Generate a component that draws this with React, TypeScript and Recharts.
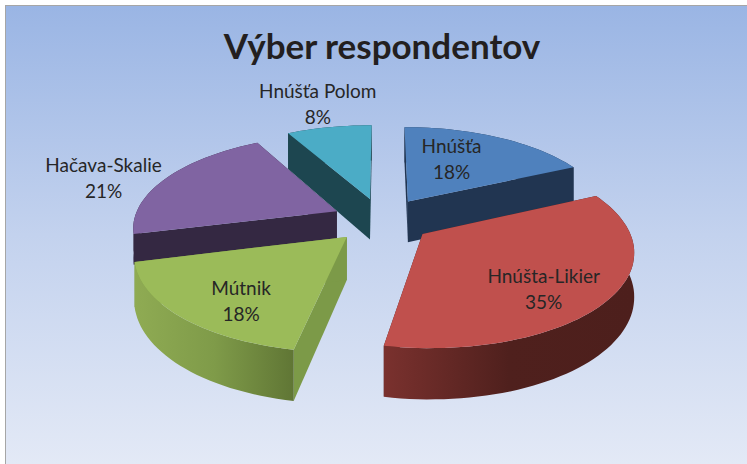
import React from 'react';
import { PieChart, Pie } from 'recharts';

const categories = ['Hnúšťa', 'Hnúšta-Likier', 'Mútnik', 'Hačava-Skalie', 'Hnúšťa Polom'];
const shares = [18, 35, 18, 21, 8];

const topColors = ['#4f81bd', '#c0504d', '#9bbb59', '#8064a2', '#4bacc6'];
const wallColors = ['#213551', '#4d1f1c', '#7c9a48', '#342842', '#1d4650'];
const arcStops = [
  ['#213551', '#213551', '#213551'],
  ['#7a312e', '#4f201d', '#4d1f1c'],
  ['#8fab53', '#7f9b49', '#607635'],
  ['#342842', '#342842', '#342842'],
  ['#1d4650', '#1d4650', '#1d4650'],
];

// far slices first, the near ones have to cover them
const paintOrder = [4, 0, 3, 2, 1];
// where the label sits along the slice's middle, as a share of the radius
const labelReach = [0.43, 0.74, 0.68, 1.31, 1.18];
const labelShift = [
  [2, -13],
  [-13, 8],
  [3, 12],
  [-14, 9],
  [-5, -12],
];
// the purple one is thinner, otherwise it sticks out under the green slice
const sliceDepth = [42, 42, 42, 30, 42];

const data = categories.map((name, i) => ({ name, value: shares[i] }));

const W = 742;
const H = 459;
const RADIAN = Math.PI / 180;
const EXPLODE = 50;
const TILT = 0.45;
const VIEW = 1300;

// flat pie plane -> screen, with a bit of perspective
const project = (cx: number, cy: number, x: number, y: number, drop = 0) => {
  const s = VIEW / (VIEW + y);
  return [cx + x * s, cy - y * TILT * s + drop * s];
};

const sliceShape = (target: number) => (props: any) => {
  const i = categories.indexOf(props.name);
  if (i !== target) return <g />;
  const { cx, cy, startAngle, endAngle, outerRadius: r, midAngle } = props;
  const depth = sliceDepth[i];
  const ox = EXPLODE * Math.cos(midAngle * RADIAN);
  const oy = EXPLODE * Math.sin(midAngle * RADIAN);
  const pt = (deg: number, radius: number, drop = 0) =>
    project(cx, cy, ox + radius * Math.cos(deg * RADIAN), oy + radius * Math.sin(deg * RADIAN), drop);
  const steps = Math.max(8, Math.round(Math.abs(startAngle - endAngle) / 2));
  const arc: number[] = [];
  for (let k = 0; k <= steps; k++) arc.push(startAngle + ((endAngle - startAngle) * k) / steps);
  const str = (p: number[]) => `${p[0].toFixed(1)} ${p[1].toFixed(1)}`;
  const apex = pt(0, 0);
  const apexLow = pt(0, 0, depth);
  const top = `M${str(apex)} ` + arc.map((a) => `L${str(pt(a, r))}`).join(' ') + ' Z';
  const wall = (deg: number) => `M${str(apex)} L${str(pt(deg, r))} L${str(pt(deg, r, depth))} L${str(apexLow)} Z`;
  const rim =
    arc.map((a, k) => `${k ? 'L' : 'M'}${str(pt(a, r))}`).join(' ') +
    ' ' +
    [...arc].reverse().map((a) => `L${str(pt(a, r, depth))}`).join(' ') +
    ' Z';
  const gid = `rim-${i}`;
  return (
    <g>
      <defs>
        <linearGradient id={gid} x1="0" y1="0" x2="1" y2="0">
          <stop offset="0" stopColor={arcStops[i][0]} />
          <stop offset="0.5" stopColor={arcStops[i][1]} />
          <stop offset="1" stopColor={arcStops[i][2]} />
        </linearGradient>
      </defs>
      <path d={wall(startAngle)} fill={wallColors[i]} />
      <path d={wall(endAngle)} fill={wallColors[i]} />
      <path d={rim} fill={`url(#${gid})`} />
      <path d={top} fill={topColors[i]} />
    </g>
  );
};

const renderLabel = (props: any) => {
  const { cx, cy, midAngle, outerRadius, percent, name, index } = props;
  const reach = EXPLODE + outerRadius * labelReach[index];
  const [px, py] = project(cx, cy, reach * Math.cos(midAngle * RADIAN), reach * Math.sin(midAngle * RADIAN));
  const x = px + labelShift[index][0];
  const y = py + labelShift[index][1];
  return (
    <text key={name} x={x} y={y} textAnchor="middle" fill="#262626" fontSize={19} fontFamily="Lato">
      <tspan x={x} dy={-6}>{name}</tspan>
      <tspan x={x} dy={26}>{`${Math.round(percent * 100)}%`}</tspan>
    </text>
  );
};

export default function App() {
  return (
    <div
      style={{
        position: 'absolute',
        left: 5,
        top: 5,
        width: W,
        height: H,
        boxSizing: 'border-box',
        borderTop: '1.5px solid #a6a6a6',
        borderLeft: '1.5px solid #a6a6a6',
        background: 'linear-gradient(180deg, #9ab5e4 0%, #c3d2ee 50%, #e3e9f6 100%)',
      }}
    >
      <PieChart width={W - 2} height={H - 2} margin={{ top: 0, right: 0, bottom: 0, left: 0 }}>
        <text x={376} y={53} textAnchor="middle" fill="#231f20" fontSize={35} fontWeight={700} fontFamily="Lato">
          Výber respondentov
        </text>
        {paintOrder.map((slice, n) => (
          <Pie
            key={slice}
            data={data}
            dataKey="value"
            nameKey="name"
            cx={376}
            cy={214}
            outerRadius={203}
            startAngle={90}
            endAngle={-270}
            stroke="none"
            isAnimationActive={false}
            labelLine={false}
            label={n === paintOrder.length - 1 ? renderLabel : false}
            shape={sliceShape(slice)}
          />
        ))}
      </PieChart>
    </div>
  );
}
